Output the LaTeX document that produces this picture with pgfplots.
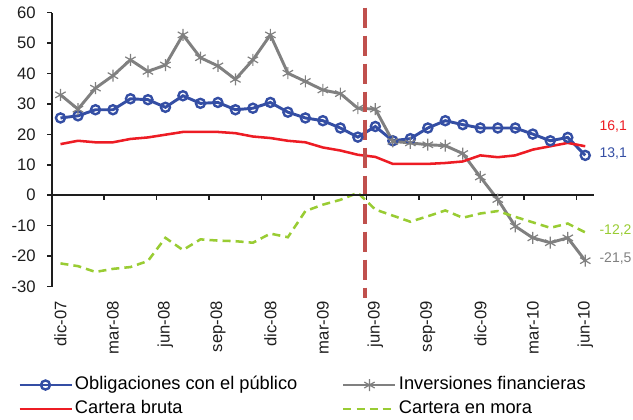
\documentclass[border=0pt]{standalone}
\usepackage{fontspec}
\setmainfont{Liberation Sans}
\usepackage{pgfplots}
\usepackage{pgfplotstable}
\pgfplotsset{compat=1.18}

\definecolor{oblig}{RGB}{52,78,164}
\definecolor{inver}{RGB}{128,128,128}
\definecolor{bruta}{RGB}{237,28,36}
\definecolor{mora}{RGB}{153,204,51}
\definecolor{corte}{RGB}{192,80,77}
\definecolor{eje}{RGB}{30,30,30}

% i = months since dic-07
\pgfplotstableread{
i  oblig  inver  bruta  mora
0  25.4   33.0   16.8  -22.4
1  26.1   28.3   17.9  -23.3
2  28.1   35.2   17.4  -25.2
3  28.1   39.3   17.4  -24.2
4  31.7   44.5   18.5  -23.6
5  31.4   40.7   19.0  -21.6
6  28.9   42.8   19.9  -14.0
7  32.7   52.7   20.8  -18.0
8  30.2   45.2   20.8  -14.5
9  30.5   42.5   20.8  -14.9
10 28.1   38.1   20.4  -15.1
11 28.6   44.5   19.3  -15.6
12 30.5   52.7   18.8  -12.6
13 27.3   40.1   17.9  -13.8
14 25.4   37.4   17.4   -5.2
15 24.5   34.6   15.7   -3.1
16 22.1   33.4   14.7   -1.5
17 19.1   28.6   13.3    0.8
18 22.6   28.3   12.6   -4.7
19 17.9   17.7   10.3   -6.7
20 18.6   17.2   10.3   -8.7
21 22.1   16.6   10.3   -6.9
22 24.5   16.3   10.6   -5.0
23 23.2   13.7   11.1   -7.4
24 22.1    6.0   13.1   -6.0
25 22.1   -1.4   12.5   -5.2
26 22.1  -10.2   13.1   -7.1
27 20.1  -14.0   15.0   -8.9
28 17.9  -15.6   16.1  -10.7
29 19.0  -14.0   17.2   -9.3
30 13.1  -21.5   16.1  -12.2
}\datos

\begin{document}
\begin{tikzpicture}
\begin{axis}[
  scale only axis,
  width=406.7pt, height=205.4pt,
  xmin=-0.5, xmax=30.5,
  ymin=-30, ymax=60,
  clip=false,
  axis y line*=left,
  axis x line*=bottom,
  x axis line style={draw=none},
  y axis line style={eje, line width=1.5pt},
  xtick={0,3,...,30},
  xticklabels={dic-07,mar-08,jun-08,sep-08,dic-08,mar-09,jun-09,sep-09,dic-09,mar-10,jun-10},
  major x tick style={draw=none},
  ytick={-30,-20,...,60},
  yticklabels={-30,-20,-10,0,10,20,30,40,50,60},
  tick align=outside,
  major tick length=3.5pt,
  major y tick style={eje, line width=1.2pt},
  x tick label style={yshift=-4pt, rotate=90, anchor=east, font=\fontsize{12.5}{14}\selectfont, text=eje},
  y tick label style={xshift=-5pt, font=\fontsize{12.5}{14}\selectfont, text=eje},
  legend columns=2,
  legend cell align=left,
  legend style={at={(rel axis cs:-0.070,-0.31)}, anchor=north west,
    draw=none, fill=none, font=\fontsize{13.7}{16}\selectfont,
    row sep=2pt,
    nodes={inner sep=1.5pt, text height=10pt, text depth=3pt},
    /tikz/every even column/.append style={column sep=32pt}},
  legend image code/.code={\draw[mark repeat=2,mark phase=2,#1] plot coordinates {(0pt,0pt)(19.5pt,0pt)(39pt,0pt)};},
]
\addplot[oblig, line width=2.2pt, mark=o, mark size=3.4pt,
  mark options={line width=1.8pt, fill=none, solid}] table[x=i, y=oblig] {\datos};
\addlegendentry{Obligaciones con el público}
\addplot[inver, line width=2.2pt, mark=asterisk, mark size=4.5pt,
  mark options={line width=0.9pt, solid}] table[x=i, y=inver] {\datos};
\addlegendentry{Inversiones financieras}
\addplot[bruta, line width=1.9pt, mark=none] table[x=i, y=bruta] {\datos};
\addlegendentry{Cartera bruta}
\addplot[mora, line width=1.9pt, mark=none, dash pattern=on 6pt off 3.8pt] table[x=i, y=mora] {\datos};
\addlegendentry{Cartera en mora}

% linea de corte
\addplot[corte, line width=3pt, dash pattern=on 15pt off 6pt, forget plot] coordinates {(17.4,61.7) (17.4,-33.7)};

% eje horizontal en cero
\draw[eje, line width=1.5pt] (axis cs:-0.5,0) -- (axis cs:30.5,0);
\pgfplotsinvokeforeach{2.5,5.5,8.5,11.5,14.5,17.5,20.5,23.5,26.5,29.5}{
  \draw[eje, line width=1.2pt] (axis cs:#1,0) -- ([yshift=-3.5pt]axis cs:#1,0);
}

\node[anchor=west, text=bruta, font=\fontsize{10.5}{12}\selectfont] at (axis cs:30.55,22.5) {16,1};
\node[anchor=west, text=oblig, font=\fontsize{10.5}{12}\selectfont] at (axis cs:30.55,13.6) {13,1};
\node[anchor=west, text=mora, font=\fontsize{10.5}{12}\selectfont] at (axis cs:30.55,-11.5) {-12,2};
\node[anchor=west, text=inver, font=\fontsize{10.5}{12}\selectfont] at (axis cs:30.55,-20.8) {-21,5};

\coordinate (sw) at (rel axis cs:0,0);
\end{axis}
\pgfresetboundingbox
\path[use as bounding box] (sw) ++(-38.8pt,-100.1pt) rectangle ++(474.75pt,315pt);
\end{tikzpicture}
\end{document}
